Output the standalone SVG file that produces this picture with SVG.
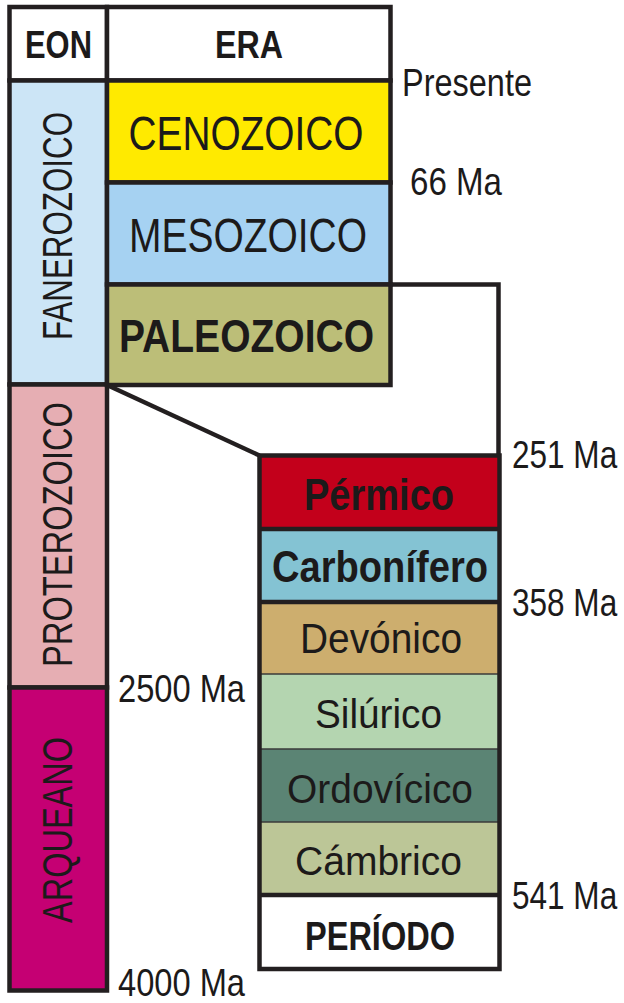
<svg xmlns="http://www.w3.org/2000/svg" width="624" height="1003" viewBox="0 0 624 1003">
<style>
.bx{stroke:#231f20;stroke-width:4.5;stroke-linejoin:miter}
.nf{stroke:none}
.ln{stroke:#231f20;stroke-width:4.5;fill:none;stroke-linejoin:miter}
.tn{stroke:#3a3a3a;stroke-width:1.6;fill:none}
text{font-family:"Liberation Sans",Arial,sans-serif;fill:#1c1a1a}
.b{font-weight:bold}
.c{text-anchor:middle}
</style>
<rect width="624" height="1003" fill="#ffffff"/>

<g id="eon-header">
<rect class="bx" x="9.5" y="7" width="97.5" height="73.5" fill="#ffffff"/>
<text class="b c" x="58.5" y="58" font-size="38" textLength="67" lengthAdjust="spacingAndGlyphs">EON</text>
</g>
<g id="era-header">
<rect class="bx" x="107" y="7" width="283.5" height="73.5" fill="#ffffff"/>
<text class="b c" x="249" y="58" font-size="38" textLength="68" lengthAdjust="spacingAndGlyphs">ERA</text>
</g>

<g id="fanerozoico">
<rect class="bx" x="9.5" y="80.5" width="97.5" height="304" fill="#cce5f6"/>
<text class="c" transform="translate(72,226) rotate(-90)" font-size="42" textLength="228" lengthAdjust="spacingAndGlyphs">FANEROZOICO</text>
</g>
<g id="proterozoico">
<rect class="bx" x="9.5" y="384.5" width="97.5" height="303" fill="#e6aeb3"/>
<text class="c" transform="translate(72,534.5) rotate(-90)" font-size="42" textLength="265" lengthAdjust="spacingAndGlyphs">PROTEROZOICO</text>
</g>
<g id="arqueano">
<rect class="bx" x="9.5" y="687.5" width="97.5" height="303" fill="#c50073"/>
<text class="c" transform="translate(72,830) rotate(-90)" font-size="42" textLength="186" lengthAdjust="spacingAndGlyphs">ARQUEANO</text>
</g>

<g id="cenozoico">
<rect class="bx" x="107" y="80.5" width="283.5" height="102" fill="#ffea00"/>
<text class="c" x="246" y="150" font-size="48" textLength="235" lengthAdjust="spacingAndGlyphs">CENOZOICO</text>
</g>
<g id="mesozoico">
<rect class="bx" x="107" y="182.5" width="283.5" height="102" fill="#a6d2f2"/>
<text class="c" x="248" y="252" font-size="48" textLength="238" lengthAdjust="spacingAndGlyphs">MESOZOICO</text>
</g>
<g id="paleozoico">
<rect class="bx" x="107" y="284.5" width="283.5" height="100.5" fill="#bcbe78"/>
<text class="b c" x="246.5" y="352" font-size="46" textLength="255" lengthAdjust="spacingAndGlyphs">PALEOZOICO</text>
</g>

<g id="connectors">
<polyline class="ln" points="390.5,284.5 498.5,284.5 498.5,455.5"/>
<line class="ln" x1="107" y1="385" x2="259.5" y2="455.5"/>
</g>

<g id="periodos">
<g id="permico">
<rect class="nf" x="259.5" y="455.5" width="240" height="73.5" fill="#c3001b"/>
<text class="b c" x="379" y="510" font-size="44" textLength="150" lengthAdjust="spacingAndGlyphs">Pérmico</text>
</g>
<g id="carbonifero">
<rect class="nf" x="259.5" y="529" width="240" height="73" fill="#84c3d3"/>
<text class="b c" x="380" y="582" font-size="44" textLength="216" lengthAdjust="spacingAndGlyphs">Carbonífero</text>
</g>
<g id="devonico">
<rect class="nf" x="259.5" y="602" width="240" height="72" fill="#cdae6e"/>
<text class="c" x="381" y="653" font-size="42" textLength="162" lengthAdjust="spacingAndGlyphs">Devónico</text>
</g>
<g id="silurico">
<rect class="nf" x="259.5" y="674" width="240" height="75" fill="#b4d5b0"/>
<text class="c" x="378.5" y="728" font-size="40" textLength="127" lengthAdjust="spacingAndGlyphs">Silúrico</text>
</g>
<g id="ordovicico">
<rect class="nf" x="259.5" y="749" width="240" height="73" fill="#5b8474"/>
<text class="c" x="380" y="803" font-size="40" textLength="186" lengthAdjust="spacingAndGlyphs">Ordovícico</text>
</g>
<g id="cambrico">
<rect class="nf" x="259.5" y="822" width="240" height="73" fill="#bcc697"/>
<text class="c" x="378.5" y="875" font-size="41" textLength="167" lengthAdjust="spacingAndGlyphs">Cámbrico</text>
</g>
<g id="periodo-header">
<rect class="nf" x="259.5" y="895" width="240" height="74" fill="#ffffff"/>
<text class="b c" x="380" y="950" font-size="40" textLength="150" lengthAdjust="spacingAndGlyphs">PERÍODO</text>
</g>
<line class="tn" x1="259.5" y1="674" x2="499.5" y2="674"/>
<line class="tn" x1="259.5" y1="749" x2="499.5" y2="749"/>
<line class="tn" x1="259.5" y1="822" x2="499.5" y2="822"/>
<line class="ln" x1="259.5" y1="529" x2="499.5" y2="529"/>
<line class="ln" x1="259.5" y1="602" x2="499.5" y2="602"/>
<line class="ln" x1="259.5" y1="895" x2="499.5" y2="895"/>
<rect class="ln" x="259.5" y="455.5" width="240" height="513.5"/>
</g>

<g id="edades">
<text x="402" y="96" font-size="38" textLength="130" lengthAdjust="spacingAndGlyphs">Presente</text>
<text x="410" y="195" font-size="39" textLength="92" lengthAdjust="spacingAndGlyphs">66 Ma</text>
<text transform="translate(512,468) scale(0.83,1)" font-size="38">251 Ma</text>
<text transform="translate(512,616) scale(0.83,1)" font-size="38">358 Ma</text>
<text transform="translate(512,909) scale(0.83,1)" font-size="38">541 Ma</text>
<text x="118" y="702" font-size="39" textLength="127" lengthAdjust="spacingAndGlyphs">2500 Ma</text>
<text x="118" y="996" font-size="39" textLength="127" lengthAdjust="spacingAndGlyphs">4000 Ma</text>
</g>
</svg>
